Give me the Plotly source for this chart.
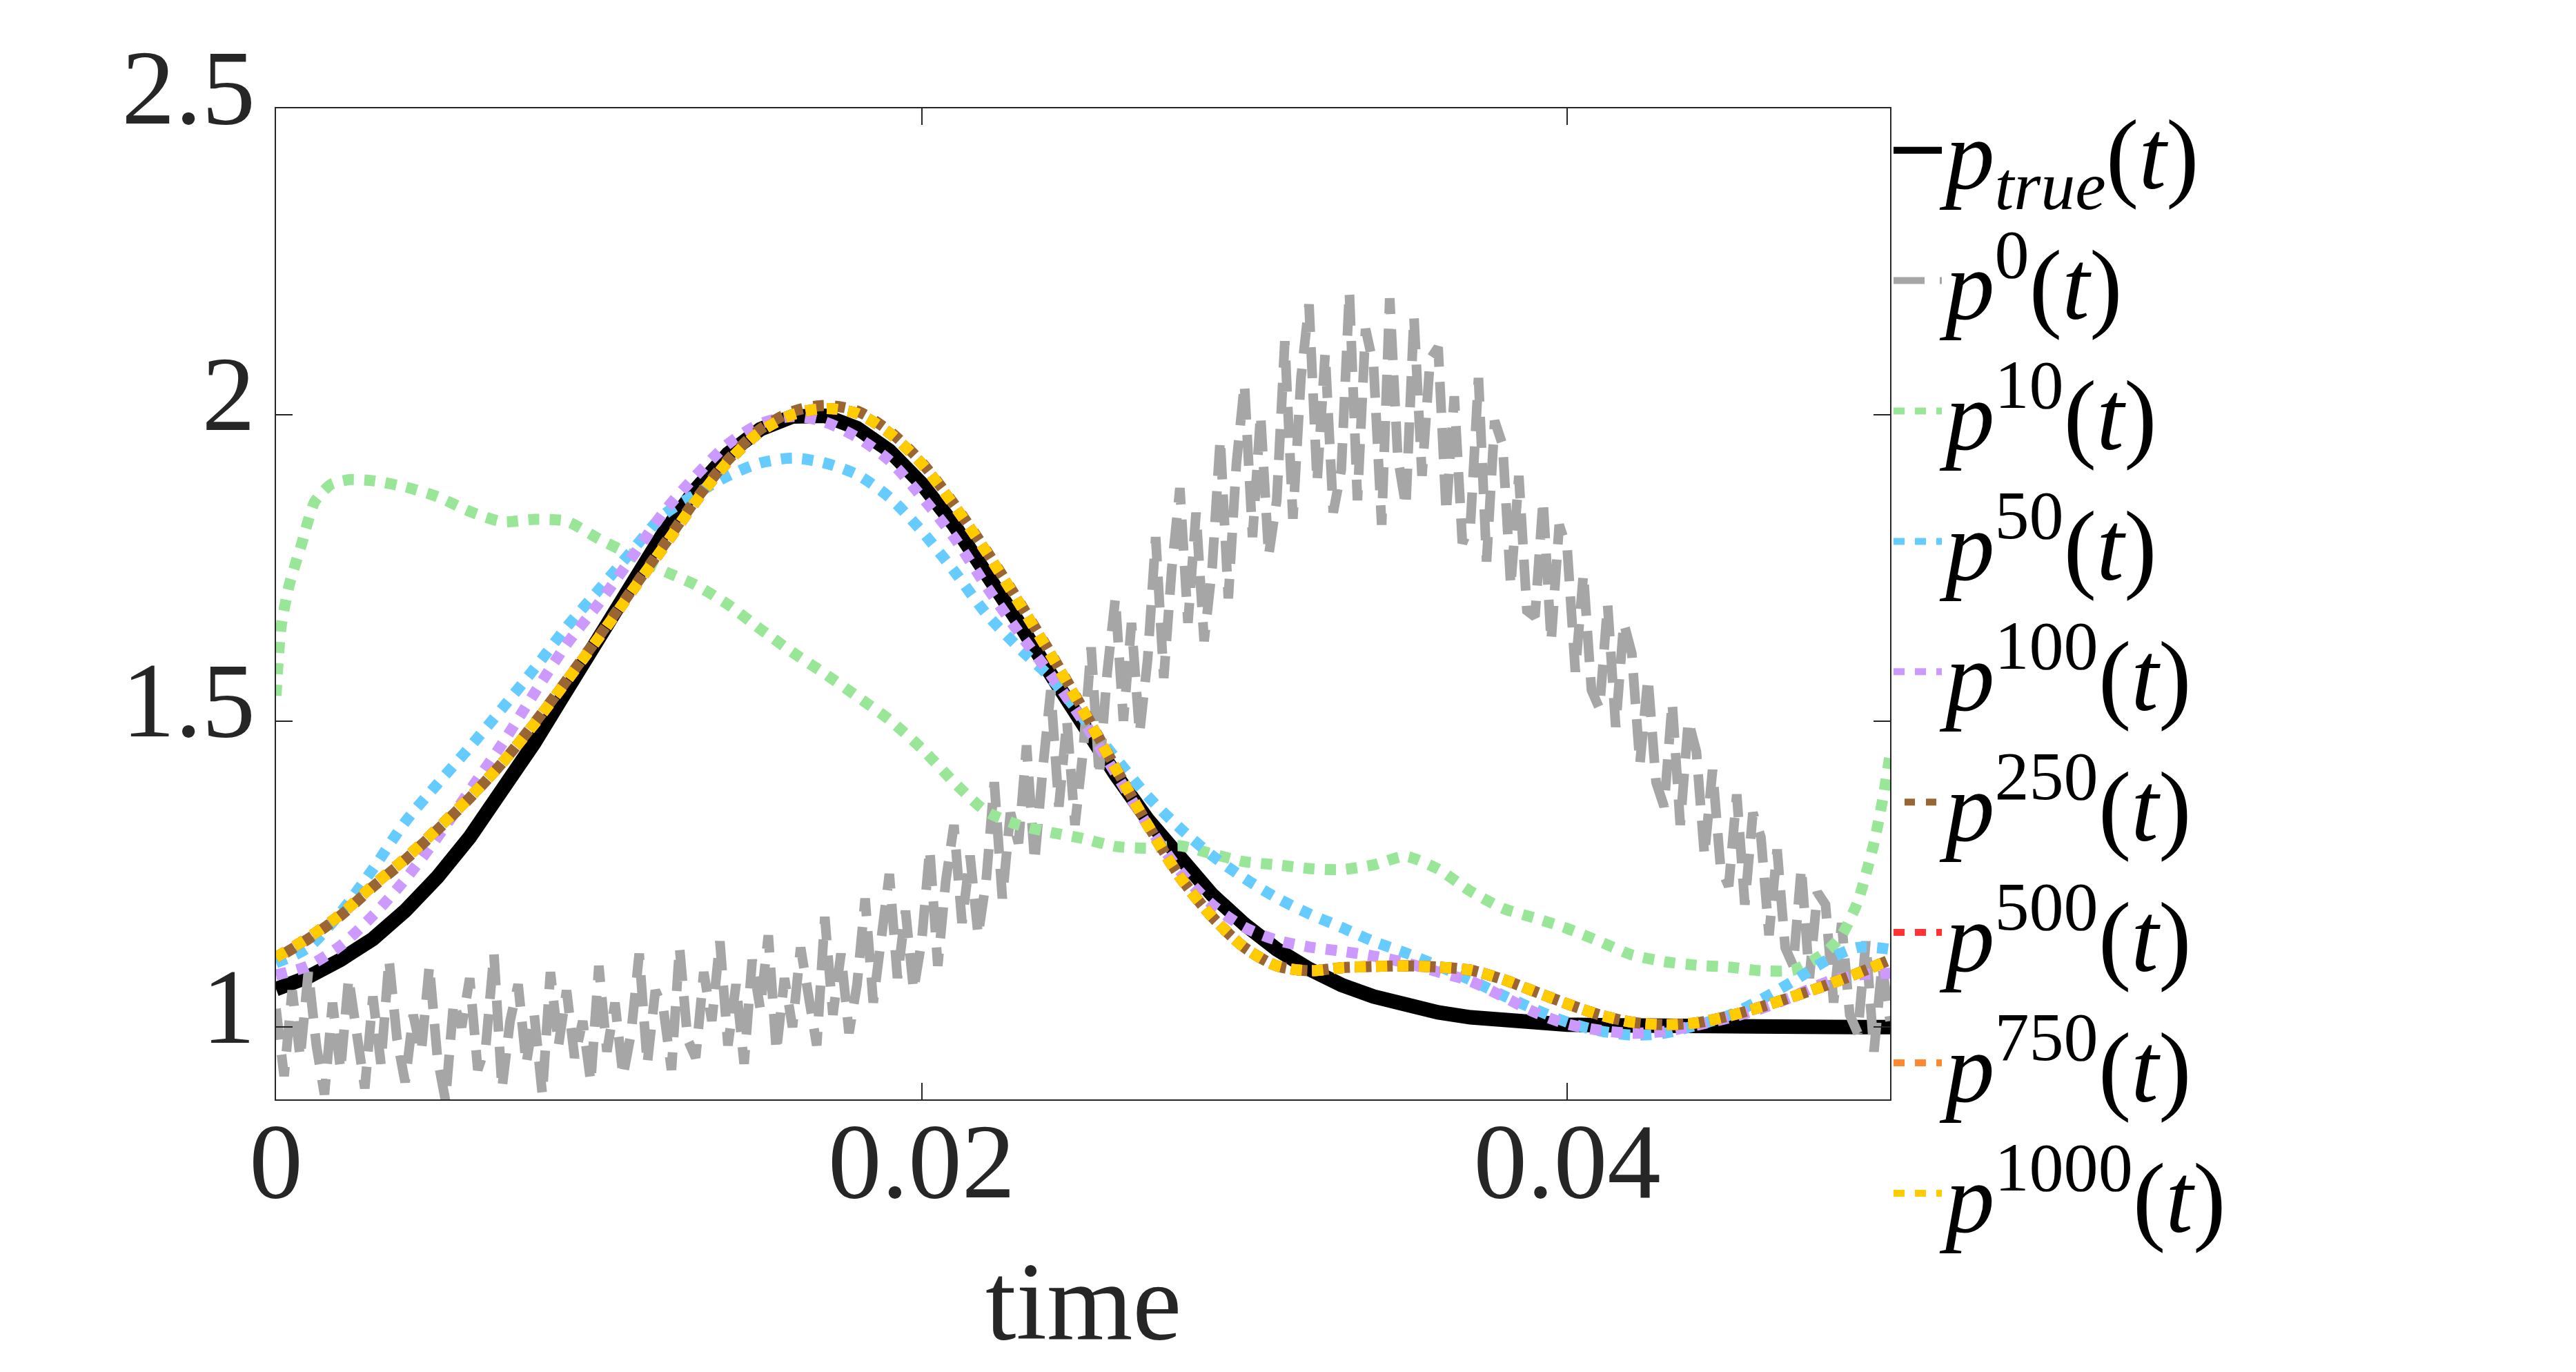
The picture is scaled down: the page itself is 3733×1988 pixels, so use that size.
import plotly.graph_objects as go

# ---------------- data ----------------
t = [0.000, 0.001, 0.002, 0.003, 0.004, 0.005, 0.006, 0.007, 0.008, 0.009,
     0.010, 0.011, 0.012, 0.013, 0.014, 0.015, 0.016, 0.017, 0.018, 0.019,
     0.020, 0.021, 0.022, 0.023, 0.024, 0.025, 0.026, 0.027, 0.028, 0.029,
     0.030, 0.031, 0.032, 0.033, 0.034, 0.035, 0.036, 0.037, 0.038, 0.039,
     0.040, 0.041, 0.042, 0.043, 0.044, 0.045, 0.046, 0.047, 0.048, 0.049,
     0.050]

p_true = [1.062, 1.082, 1.110, 1.144, 1.190, 1.245, 1.310, 1.383, 1.464, 1.550,
          1.638, 1.725, 1.806, 1.878, 1.936, 1.976, 1.997, 1.998, 1.978, 1.941,
          1.887, 1.820, 1.743, 1.661, 1.576, 1.493, 1.413, 1.339, 1.273, 1.216,
          1.168, 1.127, 1.095, 1.069, 1.050, 1.035, 1.024, 1.016, 1.011, 1.007,
          1.004, 1.003, 1.002, 1.001, 1.000, 1.000, 1.000, 1.000, 1.000, 1.000,
          1.000]

t0 = [0.0, 0.00025, 0.0005, 0.00075, 0.001, 0.00125, 0.0015, 0.00175,
      0.002, 0.00225, 0.0025, 0.00275, 0.003, 0.00325, 0.0035, 0.00375,
      0.004, 0.00425, 0.0045, 0.00475, 0.005, 0.00525, 0.0055, 0.00575,
      0.006, 0.00625, 0.0065, 0.00675, 0.007, 0.00725, 0.0075, 0.00775,
      0.008, 0.00825, 0.0085, 0.00875, 0.009, 0.00925, 0.0095, 0.00975,
      0.010, 0.01025, 0.0105, 0.01075, 0.011, 0.01125, 0.0115, 0.01175,
      0.012, 0.01225, 0.0125, 0.01275, 0.013, 0.01325, 0.0135, 0.01375,
      0.014, 0.01425, 0.0145, 0.01475, 0.015, 0.01525, 0.0155, 0.01575,
      0.016, 0.01625, 0.0165, 0.01675, 0.017, 0.01725, 0.0175, 0.01775,
      0.018, 0.01825, 0.0185, 0.01875, 0.019, 0.01925, 0.0195, 0.01975,
      0.020, 0.02025, 0.0205, 0.02075, 0.021, 0.02125, 0.0215, 0.02175,
      0.022, 0.02225, 0.0225, 0.02275, 0.023, 0.02325, 0.0235, 0.02375,
      0.024, 0.02425, 0.0245, 0.02475, 0.025, 0.02525, 0.0255, 0.02575,
      0.026, 0.02625, 0.0265, 0.02675, 0.027, 0.02725, 0.0275, 0.02775,
      0.028, 0.02825, 0.0285, 0.02875, 0.029, 0.02925, 0.0295, 0.02975,
      0.030, 0.03025, 0.0305, 0.03075, 0.031, 0.03125, 0.0315, 0.03175,
      0.032, 0.03225, 0.0325, 0.03275, 0.033, 0.03325, 0.0335, 0.03375,
      0.034, 0.03425, 0.0345, 0.03475, 0.035, 0.03525, 0.0355, 0.03575,
      0.036, 0.03625, 0.0365, 0.03675, 0.037, 0.03725, 0.0375, 0.03775,
      0.038, 0.03825, 0.0385, 0.03875, 0.039, 0.03925, 0.0395, 0.03975,
      0.040, 0.04025, 0.0405, 0.04075, 0.041, 0.04125, 0.0415, 0.04175,
      0.042, 0.04225, 0.0425, 0.04275, 0.043, 0.04325, 0.0435, 0.04375,
      0.044, 0.04425, 0.0445, 0.04475, 0.045, 0.04525, 0.0455, 0.04575,
      0.046, 0.04625, 0.0465, 0.04675, 0.047, 0.04725, 0.0475, 0.04775,
      0.048, 0.04825, 0.0485, 0.04875, 0.049, 0.04925, 0.0495, 0.04975,
      0.050]

p0 = [1.03, 0.92, 1.06, 0.95, 1.09, 0.97, 0.89, 1.04,
      0.93, 1.08, 0.99, 0.90, 1.05, 0.94, 1.11, 0.98,
      0.91, 1.02, 0.96, 1.10, 0.95, 0.88, 1.04, 1.00,
      1.08, 0.93, 0.97, 1.12, 0.90, 1.01, 1.07, 0.94,
      1.02, 0.89, 1.09, 0.97, 1.06, 0.95, 1.01, 0.91,
      1.10, 0.96, 1.04, 0.92, 0.99, 1.12, 0.94, 1.06,
      1.03, 0.93, 1.13, 0.98, 0.95, 1.09, 1.01, 1.14,
      0.97, 1.07, 0.94, 1.11, 1.03, 1.15, 0.96, 1.08,
      1.00, 1.13, 1.05, 0.97, 1.18, 1.02, 1.12, 0.99,
      1.07, 1.21, 1.04, 1.16, 1.25, 1.08, 1.19, 1.06,
      1.14, 1.29, 1.10, 1.24, 1.33, 1.17, 1.28, 1.15,
      1.24, 1.40, 1.21, 1.35, 1.30, 1.46, 1.27, 1.42,
      1.55, 1.36, 1.50, 1.33, 1.45, 1.62, 1.41, 1.58,
      1.70, 1.50, 1.66, 1.48, 1.60, 1.80, 1.57, 1.75,
      1.88, 1.66, 1.84, 1.63, 1.75, 1.96, 1.70, 1.92,
      2.05, 1.80, 2.00, 1.77, 1.86, 2.12, 1.83, 2.06,
      2.18, 1.89, 2.10, 1.84, 1.91, 2.20, 1.86, 2.14,
      2.08, 1.82, 2.19, 1.93, 1.85, 2.16, 1.90, 2.09,
      2.11, 1.84, 2.03, 1.79, 1.82, 2.06, 1.76, 1.99,
      1.95, 1.72, 1.90, 1.68, 1.67, 1.86, 1.63, 1.82,
      1.78, 1.58, 1.74, 1.55, 1.52, 1.69, 1.49, 1.66,
      1.61, 1.43, 1.57, 1.40, 1.36, 1.53, 1.33, 1.50,
      1.45, 1.28, 1.42, 1.26, 1.23, 1.38, 1.20, 1.35,
      1.31, 1.15, 1.29, 1.13, 1.10, 1.26, 1.08, 1.22,
      1.20, 1.04, 1.17, 1.02, 0.99, 1.14, 0.96, 1.10,
      1.01]

t10 = [0.0, 0.00015, 0.0004, 0.0008, 0.0012, 0.0017, 0.0023,
       0.003, 0.004, 0.005, 0.006, 0.007, 0.008, 0.009, 0.010, 0.011, 0.012,
       0.013, 0.014, 0.015, 0.016, 0.017, 0.018, 0.019, 0.020, 0.021, 0.022,
       0.023, 0.024, 0.025, 0.026, 0.027, 0.028, 0.029, 0.030, 0.031, 0.032,
       0.033, 0.034, 0.035, 0.036, 0.037, 0.038, 0.039, 0.040, 0.041, 0.042,
       0.043, 0.044, 0.045, 0.046, 0.047,
       0.048, 0.0485, 0.049, 0.0495, 0.0498, 0.050]
p10 = [1.541, 1.651, 1.720, 1.790, 1.858, 1.886, 1.894,
       1.892, 1.882, 1.866, 1.842, 1.825, 1.829, 1.826, 1.797, 1.771, 1.745,
       1.722, 1.690, 1.650, 1.612, 1.577, 1.540, 1.502, 1.455, 1.400, 1.352,
       1.330, 1.318, 1.308, 1.295, 1.292, 1.296, 1.283, 1.270, 1.265, 1.259,
       1.257, 1.265, 1.279, 1.258, 1.222, 1.194, 1.178, 1.161, 1.140, 1.118,
       1.107, 1.101, 1.098, 1.092, 1.093,
       1.122, 1.150, 1.205, 1.300, 1.380, 1.445]

p50 = [1.105, 1.130, 1.187, 1.258, 1.335, 1.397, 1.457, 1.520, 1.585, 1.653,
       1.714, 1.776, 1.836, 1.870, 1.900, 1.921, 1.929, 1.921, 1.902, 1.865,
       1.810, 1.745, 1.675, 1.620, 1.570, 1.505, 1.440, 1.377, 1.325, 1.280,
       1.243, 1.211, 1.185, 1.163, 1.140, 1.121, 1.100, 1.077, 1.052, 1.029,
       1.008, 0.994, 0.987, 0.990, 1.003, 1.019, 1.045, 1.075, 1.108, 1.130,
       1.127]

p100 = [1.085, 1.100, 1.133, 1.182, 1.241, 1.310, 1.386, 1.462, 1.545, 1.625,
        1.692, 1.765, 1.840, 1.900, 1.952, 1.985, 1.997, 1.988, 1.963, 1.925,
        1.866, 1.800, 1.720, 1.645, 1.575, 1.500, 1.415, 1.330, 1.255, 1.200,
        1.163, 1.142, 1.131, 1.124, 1.116, 1.105, 1.090, 1.075, 1.050, 1.024,
        1.005, 0.995, 0.990, 0.993, 1.003, 1.015, 1.030, 1.050, 1.073, 1.085,
        1.088]

p250 = [1.112, 1.144, 1.182, 1.229, 1.273, 1.322, 1.374, 1.431, 1.496, 1.566,
        1.638, 1.712, 1.786, 1.861, 1.926, 1.976, 2.005, 2.015, 2.006, 1.973,
        1.922, 1.854, 1.778, 1.696, 1.610, 1.519, 1.424, 1.331, 1.246, 1.180,
        1.130, 1.100, 1.092, 1.097, 1.099, 1.100, 1.098, 1.093, 1.078, 1.058,
        1.038, 1.020, 1.008, 1.004, 1.007, 1.018, 1.033, 1.050, 1.068, 1.088,
        1.110]

p500 = [1.114, 1.146, 1.184, 1.231, 1.275, 1.324, 1.375, 1.431, 1.495, 1.565,
        1.636, 1.710, 1.783, 1.858, 1.923, 1.972, 2.000, 2.010, 2.002, 1.970,
        1.920, 1.852, 1.776, 1.694, 1.608, 1.517, 1.423, 1.330, 1.245, 1.180,
        1.130, 1.100, 1.092, 1.097, 1.099, 1.100, 1.098, 1.093, 1.078, 1.058,
        1.038, 1.020, 1.008, 1.004, 1.007, 1.018, 1.033, 1.050, 1.068, 1.088,
        1.110]

p750 = [1.114, 1.146, 1.184, 1.231, 1.275, 1.324, 1.375, 1.431, 1.495, 1.565,
        1.636, 1.710, 1.783, 1.858, 1.923, 1.972, 2.000, 2.010, 2.002, 1.970,
        1.920, 1.852, 1.776, 1.694, 1.608, 1.517, 1.423, 1.330, 1.245, 1.180,
        1.130, 1.100, 1.092, 1.097, 1.099, 1.100, 1.098, 1.093, 1.078, 1.058,
        1.038, 1.020, 1.008, 1.004, 1.007, 1.018, 1.033, 1.050, 1.068, 1.088,
        1.110]

p1000 = [1.114, 1.146, 1.184, 1.231, 1.275, 1.324, 1.375, 1.431, 1.495, 1.565,
         1.636, 1.710, 1.783, 1.858, 1.923, 1.972, 2.000, 2.010, 2.002, 1.970,
         1.920, 1.852, 1.776, 1.694, 1.608, 1.517, 1.423, 1.330, 1.245, 1.180,
         1.130, 1.100, 1.092, 1.097, 1.099, 1.100, 1.098, 1.093, 1.078, 1.058,
         1.038, 1.020, 1.008, 1.004, 1.007, 1.018, 1.033, 1.050, 1.068, 1.088,
         1.110]

x_tickvals = [0, 0.02, 0.04]
x_ticktext = ["0", "0.02", "0.04"]
y_tickvals = [1, 1.5, 2, 2.5]
y_ticktext = ["1", "1.5", "2", "2.5"]
x_title = "time"

names = {
    "true": "<i>p</i><sub><i>true</i></sub>(<i>t</i>)",
    "0": "<i>p</i><sup>0</sup>(<i>t</i>)",
    "10": "<i>p</i><sup>10</sup>(<i>t</i>)",
    "50": "<i>p</i><sup>50</sup>(<i>t</i>)",
    "100": "<i>p</i><sup>100</sup>(<i>t</i>)",
    "250": "<i>p</i><sup>250</sup>(<i>t</i>)",
    "500": "<i>p</i><sup>500</sup>(<i>t</i>)",
    "750": "<i>p</i><sup>750</sup>(<i>t</i>)",
    "1000": "<i>p</i><sup>1000</sup>(<i>t</i>)",
}

DOT = "16px,15px"
DOT_SHIFT = "0px,16px,15px,0px"
LW = 16

fig = go.Figure()
fig.add_trace(go.Scatter(x=t, y=p_true, mode="lines", name=names["true"],
                         line=dict(color="#000000", width=21)))
fig.add_trace(go.Scatter(x=t0, y=p0, mode="lines", name=names["0"],
                         line=dict(color="#A6A6A6", width=14, dash="45px,22px")))
fig.add_trace(go.Scatter(x=t10, y=p10, mode="lines", name=names["10"],
                         line=dict(color="#99E699", width=LW, dash=DOT, shape="spline", smoothing=0.6)))
fig.add_trace(go.Scatter(x=t, y=p50, mode="lines", name=names["50"],
                         line=dict(color="#66CCFF", width=LW, dash=DOT, shape="spline", smoothing=0.8)))
fig.add_trace(go.Scatter(x=t, y=p100, mode="lines", name=names["100"],
                         line=dict(color="#CC99FF", width=LW, dash=DOT, shape="spline", smoothing=0.8)))
fig.add_trace(go.Scatter(x=t, y=p250, mode="lines", name=names["250"],
                         line=dict(color="#996633", width=LW, dash=DOT_SHIFT, shape="spline", smoothing=0.8)))
fig.add_trace(go.Scatter(x=t, y=p500, mode="lines", name=names["500"],
                         line=dict(color="#FF3333", width=LW, dash=DOT, shape="spline", smoothing=0.8)))
fig.add_trace(go.Scatter(x=t, y=p750, mode="lines", name=names["750"],
                         line=dict(color="#FF8833", width=LW, dash=DOT, shape="spline", smoothing=0.8)))
fig.add_trace(go.Scatter(x=t, y=p1000, mode="lines", name=names["1000"],
                         line=dict(color="#FFCC00", width=LW, dash=DOT, shape="spline", smoothing=0.8)))

axis_common = dict(
    showgrid=False, zeroline=False,
    showline=True, linecolor="#262626", linewidth=2, mirror="ticks",
    ticks="inside", ticklen=24, tickwidth=2, tickcolor="#262626",
    tickfont=dict(family="Liberation Serif", size=155, color="#262626"),
)

fig.update_layout(
    width=3733, height=1988,
    margin=dict(l=392, r=1002, t=149, b=403),
    paper_bgcolor="white", plot_bgcolor="white",
    font=dict(family="Liberation Serif", color="#262626"),
    xaxis=dict(range=[0, 0.05], tickmode="array", tickvals=x_tickvals, ticktext=x_ticktext,
               ticklabelstandoff=-46, **axis_common),
    yaxis=dict(range=[0.882, 2.5], tickmode="array", tickvals=y_tickvals, ticktext=y_ticktext,
               ticklabelstandoff=-3, ticklabelshift=-32, **axis_common),
    showlegend=True,
    legend=dict(x=1.0, xanchor="left", y=1.027, yanchor="top",
                font=dict(family="Liberation Serif", size=143, color="#000000"),
                bgcolor="rgba(0,0,0,0)", itemwidth=70, tracegroupgap=0,
                maxheight=1900),
    annotations=[dict(text=x_title, xref="paper", yref="paper", x=0.5, y=-0.204,
                      xanchor="center", yanchor="middle", showarrow=False,
                      font=dict(family="Liberation Serif", size=160, color="#262626"))],
)

fig.write_html("out.html")
